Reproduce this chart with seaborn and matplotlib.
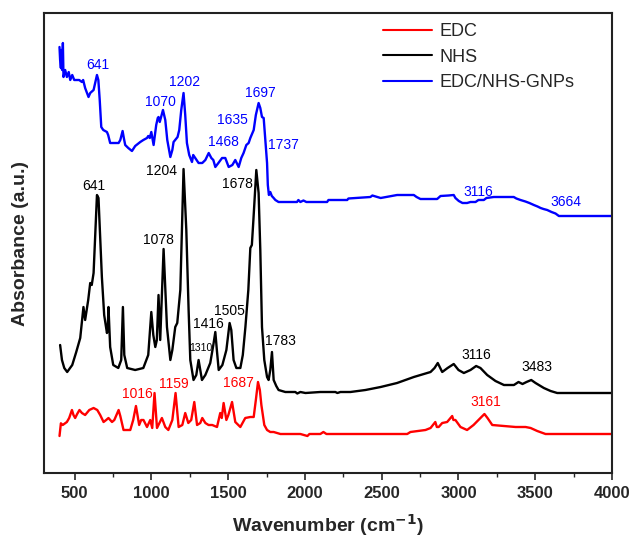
import numpy as np
import pandas as pd
import matplotlib
matplotlib.use("Agg")
import matplotlib.pyplot as plt
import seaborn as sns
from matplotlib.ticker import MultipleLocator

sns.set_style("ticks")
plt.rcParams['font.family'] = ['Liberation Sans', 'DejaVu Sans']

# ---------------- data (wavenumber cm-1, offset absorbance a.u.) ----------------
edc_wn = [401, 410, 422, 449, 464, 482, 492, 503, 516, 531, 547, 568, 595, 623, 647, 666, 688, 705,
          720, 743, 758, 786, 797, 818, 862, 881, 899, 920, 933, 948, 971, 992, 1005, 1020, 1036,
          1068, 1090, 1110, 1136, 1157, 1177, 1201, 1220, 1240, 1259, 1279, 1297, 1318, 1331, 1351,
          1372, 1396, 1427, 1448, 1458, 1470, 1488, 1501, 1525, 1546, 1579, 1611, 1644, 1666, 1680,
          1694, 1706, 1716, 1735, 1753, 1774, 1796, 1840, 1970, 2016, 2029, 2100, 2120, 2140, 2492,
          2666, 2687, 2785, 2818, 2849, 2859, 2871, 2894, 2926, 2959, 2967, 2980, 3013, 3056, 3098,
          3143, 3169, 3189, 3220, 3296, 3372, 3437, 3470, 3513, 3567, 3600, 4000]
edc_ab = [37, 49.7, 48, 51, 55, 63, 58, 55, 59, 63, 60, 58, 63, 65, 63, 58, 51, 53,
          55, 51, 53, 63, 57, 43, 43, 53, 67, 48, 53, 53, 46, 53, 45, 80, 45,
          55, 46, 43, 53, 80, 46, 48, 60, 50, 53, 71, 48, 50, 55, 50,
          48, 48, 46, 60, 55, 70, 53, 58, 71, 51, 46, 55, 56, 56, 73,
          91, 83, 68, 48, 43, 41, 41, 39, 39, 37, 39, 39, 41, 39, 39,
          39, 41, 43, 45, 51, 46, 46, 50, 51, 57, 53, 53, 46, 43, 48,
          55, 59, 55, 48, 47, 46, 46, 45, 42, 39, 39, 39]

nhs_wn = [405, 417, 432, 451, 484, 510, 536, 557, 568, 588, 601, 611, 623, 645, 655, 677, 692, 710,
          715, 720, 731, 751, 784, 803, 814, 823, 842, 894, 947, 979, 999, 1012, 1025, 1035, 1046,
          1057, 1079, 1101, 1123, 1136, 1155, 1168, 1188, 1209, 1227, 1242, 1253, 1274, 1292, 1307,
          1329, 1351, 1383, 1403, 1416, 1426, 1438, 1462, 1488, 1509, 1520, 1535, 1553, 1579, 1595,
          1612, 1631, 1644, 1654, 1664, 1683, 1698, 1709, 1720, 1735, 1753, 1763, 1774, 1785, 1796,
          1813, 1828, 1872, 1937, 1950, 1970, 2003, 2100, 2198, 2211, 2231, 2296, 2394, 2493, 2600,
          2709, 2818, 2844, 2865, 2894, 2929, 2969, 3000, 3035, 3078, 3115, 3143, 3187, 3241, 3296,
          3361, 3391, 3417, 3443, 3474, 3502, 3556, 3600, 3643, 4000]
nhs_ab = [128, 113, 105, 101, 108, 121, 135, 166, 153, 173, 190, 188, 200, 278, 275, 196, 158, 140,
          143, 166, 126, 108, 105, 113, 166, 118, 105, 103, 105, 118, 161, 138, 126, 133, 178,
          133, 224, 146, 113, 123, 146, 150, 183, 304, 243, 163, 113, 93, 98, 113,
          93, 98, 110, 128, 141, 123, 103, 108, 123, 150, 143, 113, 105, 105, 118,
          146, 183, 225, 228, 253, 303, 280, 223, 146, 113, 96, 93, 103, 121, 93,
          87, 83, 81, 81, 79.5, 81, 80, 81, 81, 80, 81, 81, 83, 86, 90,
          96, 101, 105, 110, 101, 105, 109, 103, 100, 103, 107, 105, 98, 92, 88,
          88, 91, 89, 91, 93, 90, 85, 82, 80, 80]

gnp_wn = [401, 405, 410, 415, 418, 423, 427, 438, 449, 461, 471, 484, 497, 514, 529, 547, 555, 568,
          590, 601, 623, 645, 654, 663, 673, 686, 710, 718, 731, 757, 786, 797, 812, 820, 829, 849,
          873, 894, 927, 947, 971, 979, 989, 999, 1014, 1031, 1041, 1046, 1054, 1075, 1090, 1103,
          1123, 1136, 1144, 1170, 1181, 1194, 1209, 1220, 1231, 1246, 1264, 1272, 1285, 1307, 1331,
          1351, 1373, 1390, 1403, 1416, 1436, 1460, 1481, 1503, 1527, 1546, 1568, 1585, 1600, 1618,
          1633, 1644, 1666, 1680, 1698, 1709, 1720, 1731, 1742, 1753, 1758, 1765, 1774, 1784, 1796,
          1807, 1828, 1948, 1957, 1970, 1990, 2009, 2035, 2144, 2153, 2275, 2283, 2426, 2439, 2493,
          2600, 2709, 2727, 2752, 2861, 2883, 2935, 2969, 2980, 3002, 3026, 3056, 3078, 3111, 3130,
          3165, 3182, 3230, 3360, 3377, 3404, 3436, 3462, 3491, 3515, 3535, 3554, 3578, 3606, 3632,
          3654, 4000]
gnp_ab = [426, 413, 405, 423, 403, 430, 396, 403, 396, 401, 393, 398, 393, 393, 393, 391, 393, 385,
          376, 380, 383, 398, 393, 373, 346, 343, 341, 338, 330, 330, 330, 333, 342, 335, 328, 325,
          322, 327, 331, 333, 335, 337, 335, 341, 328, 348, 355, 356, 351, 363, 353, 333,
          316, 323, 331, 336, 343, 363, 380, 358, 330, 318, 311, 318, 315, 310, 310,
          313, 320, 315, 313, 306, 310, 315, 315, 306, 308, 313, 306, 315, 320, 328,
          330, 335, 343, 358, 370, 365, 356, 355, 333, 310, 288, 278, 281, 277, 275,
          273, 271, 271, 273, 271, 272.5, 271, 271, 271, 273, 273, 274.5, 276, 277.5, 275,
          278, 278, 276, 274, 274, 277, 277.5, 278, 275, 272, 270, 270, 271, 271, 273,
          273, 275, 276, 276, 274.5, 273, 271.5, 270, 268, 266.5, 265, 264, 263, 261, 259.5,
          257, 257]

series_names = ["EDC", "NHS", "EDC/NHS-GNPs"]
series_colors = ["#ff0000", "#000000", "#0000ff"]

# peak labels: (text, wavenumber, y) per series
edc_labels = [("1016", 909, 79), ("1159", 1144, 89), ("1687", 1568, 90), ("3161", 3176, 71)]
nhs_labels = [("641", 627, 287), ("1078", 1046, 233), ("1204", 1068, 302), ("1678", 1557, 289),
              ("1505", 1507, 162), ("1416", 1372, 149), ("1783", 1840, 132), ("3116", 3117, 118),
              ("3483", 3508, 106)]
nhs_small_labels = [("1310", 1323, 125)]
gnp_labels = [("641", 649, 408), ("1070", 1057, 371), ("1202", 1214, 391), ("1468", 1466, 331),
              ("1635", 1525, 353), ("1697", 1709, 380), ("1737", 1861, 328), ("3116", 3132, 281),
              ("3664", 3698, 271)]

xticks = [500, 1000, 1500, 2000, 2500, 3000, 3500, 4000]

# ---------------- build table ----------------
frames = []
for name, wn, ab in zip(series_names, [edc_wn, nhs_wn, gnp_wn], [edc_ab, nhs_ab, gnp_ab]):
    frames.append(pd.DataFrame({"wn": wn, "ab": ab, "sample": name}))
df = pd.concat(frames, ignore_index=True)

fig = plt.figure(figsize=(6.33, 5.46), dpi=100)
ax = fig.add_axes([44 / 633, 1 - 473 / 546, (612 - 44) / 633, (473 - 13) / 546])

sns.lineplot(data=df, x="wn", y="ab", hue="sample", hue_order=series_names,
             palette=dict(zip(series_names, series_colors)), estimator=None, sort=False,
             linewidth=1.7, ax=ax)

for labels, col, fs in [(edc_labels, "#ff0000", 10), (nhs_labels, "#000000", 10),
                        (nhs_small_labels, "#000000", 7.5), (gnp_labels, "#0000ff", 10)]:
    for t, x, y in labels:
        ax.text(x, y, t, color=col, fontsize=fs, ha="center", va="center")

ax.set_xlim(300, 4000)
ax.set_ylim(0, 460)
ax.set_xticks(xticks)
ax.xaxis.set_minor_locator(MultipleLocator(250))
ax.set_yticks([])
ax.tick_params(axis="x", which="major", direction="out", length=5, width=1.2, labelsize=12, pad=4)
ax.tick_params(axis="x", which="minor", direction="out", length=3, width=1.0)
for lab in ax.get_xticklabels():
    lab.set_fontweight("bold")
for sp in ax.spines.values():
    sp.set_visible(True)
    sp.set_linewidth(1.5)
    sp.set_color("#222222")

ax.set_xlabel("Wavenumber (cm$^{\\mathbf{-1}}$)", fontsize=14, fontweight="bold", labelpad=8)
ax.set_ylabel("Absorbance (a.u.)", fontsize=14, fontweight="bold", labelpad=11)

leg = ax.legend(loc="upper left", bbox_to_anchor=(0.597, 0.978), frameon=False, fontsize=13,
                handlelength=2.7, handletextpad=0.4, labelspacing=0.48, borderpad=0, borderaxespad=0)
for h in leg.get_lines():
    h.set_linewidth(1.5)

fig.savefig("out.png", dpi=100)
